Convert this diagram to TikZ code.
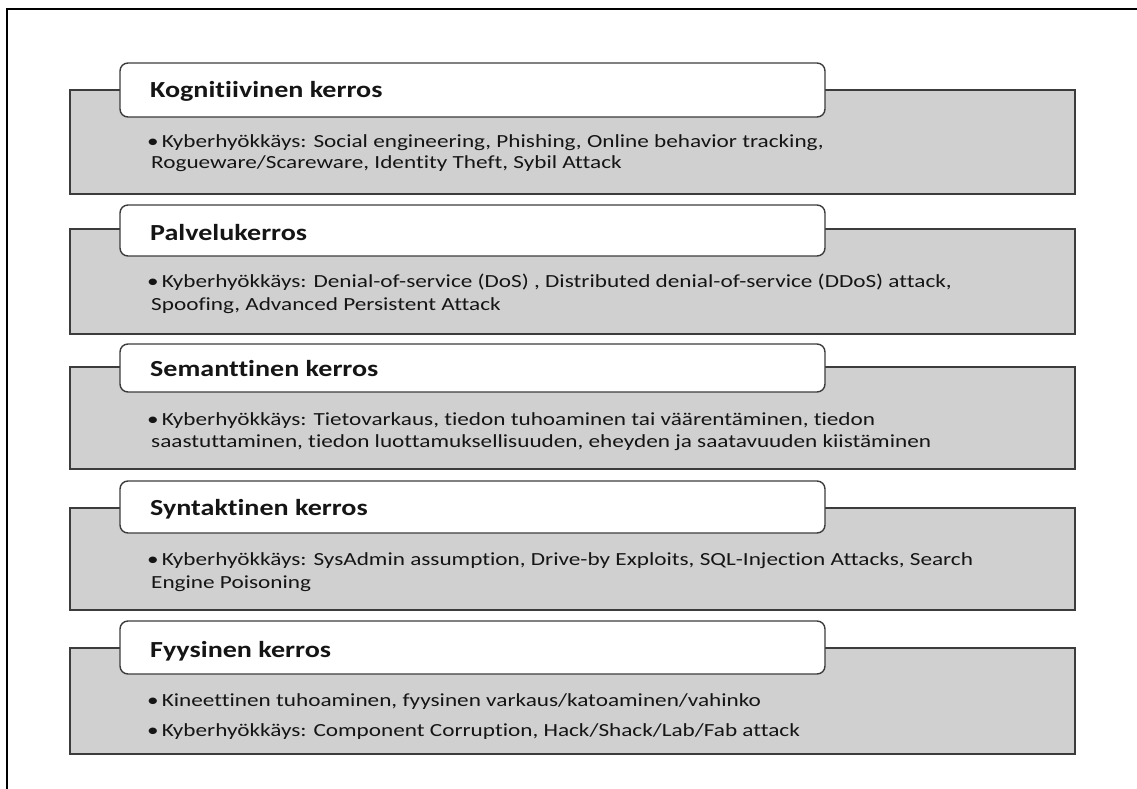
\documentclass[tikz,border=0pt]{standalone}
\usepackage{fontspec}
\setmainfont{Carlito}
% wide-set faces for the headings and the bullet texts, no ligatures
\newfontfamily\headface{Carlito}[FakeStretch=1.22,RawFeature={-liga;-clig;-dlig}]
\newfontfamily\bodyface{Carlito}[FakeStretch=1.255,RawFeature={-liga;-clig;-dlig}]
\begin{document}
\definecolor{boxgray}{HTML}{D0D0D0}
\definecolor{edgegray}{HTML}{3C3C3C}
\definecolor{inkcol}{HTML}{151515}
\begin{tikzpicture}[x=1pt,y=-1pt,
  frameline/.style={line width=2.5pt,black},
  layerbox/.style={draw=edgegray,fill=boxgray,line width=1.4pt},
  headbox/.style={draw=edgegray,fill=white,line width=1.4pt,rounded corners=8pt},
  headtext/.style={anchor=base west,inner sep=0pt,text=inkcol,
    font=\headface\fontsize{23}{27}\selectfont\bfseries},
  bodytext/.style={anchor=base west,inner sep=0pt,text=inkcol,
    font=\bodyface\fontsize{18.5}{22}\selectfont}]
\useasboundingbox (0,0) rectangle (1137,789);
% frame along the top and left edges
\coordinate (ftr) at (1137,9);
\coordinate (ftl) at (7,9);
\coordinate (fbl) at (7,789);
\draw[frameline] (ftr) -- (ftl) -- (fbl);

% layer 1
\draw[layerbox] (70,90) rectangle (1075,194);
\draw[headbox] (120,63) rectangle (825,117);
\node[headtext] (t1) at (150,98) {Kognitiivinen kerros};
\node[bodytext] (b1a) at (147,147) {•\,Kyberhyökkäys: Social engineering, Phishing, Online behavior tracking,};
\node[bodytext] (b1b) at (151,168.5) {Rogueware/Scareware, Identity Theft, Sybil Attack};

% layer 2
\draw[layerbox] (70,229) rectangle (1075,334);
\draw[headbox] (120,205) rectangle (825,256);
\node[headtext] (t2) at (150,240) {Palvelukerros};
\node[bodytext] (b2a) at (147,287) {•\,Kyberhyökkäys: Denial-of-service (DoS) , Distributed denial-of-service (DDoS) attack,};
\node[bodytext] (b2b) at (151,310) {Spoofing, Advanced Persistent Attack};

% layer 3
\draw[layerbox] (70,367) rectangle (1075,469);
\draw[headbox] (120,344) rectangle (825,392);
\node[headtext] (t3) at (150,376) {Semanttinen kerros};
\node[bodytext] (b3a) at (147,425) {•\,Kyberhyökkäys: Tietovarkaus, tiedon tuhoaminen tai väärentäminen, tiedon};
\node[bodytext] (b3b) at (151,447) {saastuttaminen, tiedon luottamuksellisuuden, eheyden ja saatavuuden kiistäminen};

% layer 4
\draw[layerbox] (70,508) rectangle (1075,610);
\draw[headbox] (120,481) rectangle (825,533);
\node[headtext] (t4) at (150,515) {Syntaktinen kerros};
\node[bodytext] (b4a) at (147,565) {•\,Kyberhyökkäys: SysAdmin assumption, Drive-by Exploits, SQL-Injection Attacks, Search};
\node[bodytext] (b4b) at (151,588) {Engine Poisoning};

% layer 5
\draw[layerbox] (70,648) rectangle (1075,754);
\draw[headbox] (120,621) rectangle (825,674);
\node[headtext] (t5) at (150,657) {Fyysinen kerros};
\node[bodytext] (b5a) at (147,706.5) {•\,Kineettinen tuhoaminen, fyysinen varkaus/katoaminen/vahinko};
\node[bodytext] (b5b) at (147,736) {•\,Kyberhyökkäys: Component Corruption, Hack/Shack/Lab/Fab attack};
\end{tikzpicture}
\end{document}
